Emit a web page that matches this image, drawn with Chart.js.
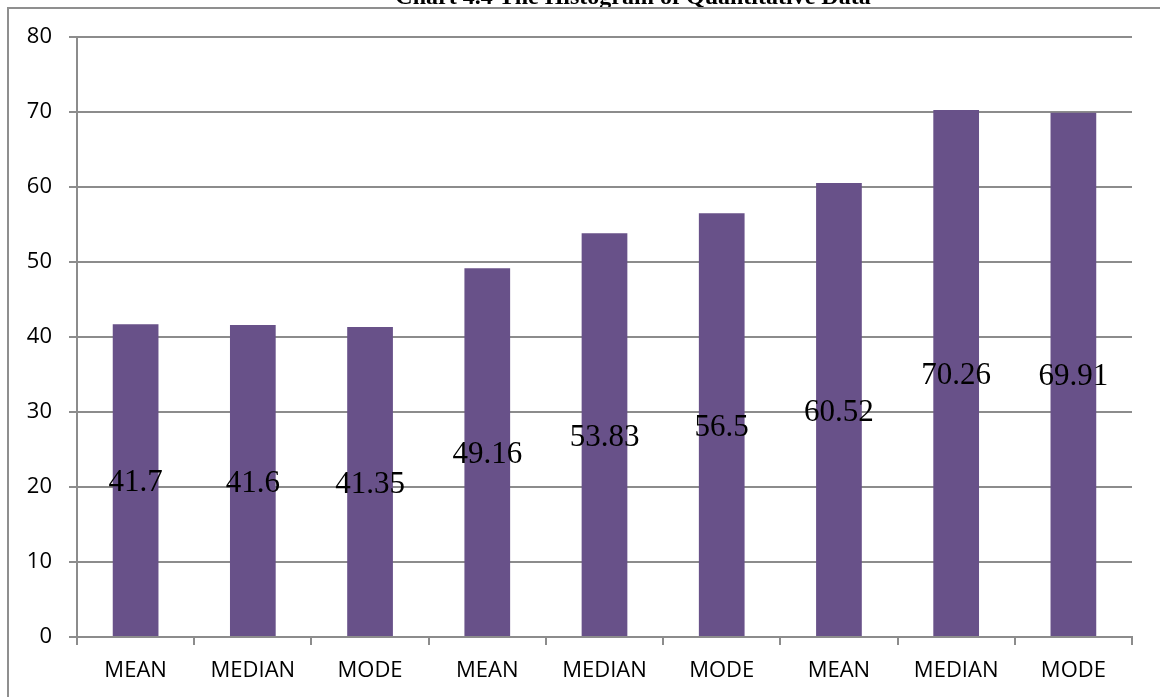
<!DOCTYPE html>
<html>
<head>
<meta charset="utf-8">
<script src="https://cdn.jsdelivr.net/npm/chart.js@4.4.1/dist/chart.umd.min.js"></script>
<style>
  html, body { margin: 0; padding: 0; background: #ffffff; }
  #wrap { position: relative; width: 1160px; height: 697px; overflow: hidden; }
  #frame {
    position: absolute; left: 7px; top: 7px; width: 1200px; height: 800px;
    border-top: 2px solid #8f8f8f; border-left: 2px solid #8f8f8f;
    box-sizing: border-box; pointer-events: none;
  }
  canvas { position: absolute; left: 0; top: 0; }
</style>
</head>
<body>
<div id="wrap">
  <canvas id="chart" width="1160" height="697"></canvas>
  <div id="frame"></div>
</div>
<script>
// Summary statistics for three groups of quantitative data
const categories = ['MEAN', 'MEDIAN', 'MODE', 'MEAN', 'MEDIAN', 'MODE', 'MEAN', 'MEDIAN', 'MODE'];
const values = [41.7, 41.6, 41.35, 49.16, 53.83, 56.5, 60.52, 70.26, 69.91];
const valueLabels = ['41.7', '41.6', '41.35', '49.16', '53.83', '56.5', '60.52', '70.26', '69.91'];
const yTicks = [0, 10, 20, 30, 40, 50, 60, 70, 80];
const titleText = 'Chart 4.4 The Histogram of Quantitative Data';

const axisGray = '#8c8c8c';
const barColor = '#685189';

// Writes each value in the middle of its bar
const centerLabels = {
  id: 'centerLabels',
  afterDatasetsDraw(chart) {
    const ctx = chart.ctx;
    const meta = chart.getDatasetMeta(0);
    ctx.save();
    ctx.font = '31px "Liberation Serif", "Times New Roman", serif';
    ctx.fillStyle = '#000000';
    ctx.textAlign = 'center';
    ctx.textBaseline = 'middle';
    meta.data.forEach((bar, i) => {
      const mid = (bar.y + bar.base) / 2;
      ctx.fillText(valueLabels[i], bar.x, mid + 3);
    });
    ctx.restore();
  }
};

// Heading text along the top edge
const heading = {
  id: 'heading',
  beforeDraw(chart) {
    const ctx = chart.ctx;
    ctx.save();
    ctx.font = 'bold 24px "Liberation Serif", "Times New Roman", serif';
    ctx.fillStyle = '#000000';
    ctx.textAlign = 'center';
    ctx.textBaseline = 'alphabetic';
    ctx.fillText(titleText, 633, 4);
    ctx.restore();
  }
};

new Chart(document.getElementById('chart'), {
  type: 'bar',
  data: {
    labels: categories,
    datasets: [{
      data: values,
      backgroundColor: barColor,
      borderWidth: 0,
      barPercentage: 0.39,
      categoryPercentage: 1.0
    }]
  },
  options: {
    responsive: false,
    animation: false,
    devicePixelRatio: 1,
    layout: { padding: { top: 37, right: 28, bottom: 0, left: 0 } },
    plugins: {
      legend: { display: false },
      tooltip: { enabled: false },
      title: { display: false }
    },
    scales: {
      x: {
        offset: true,
        grid: {
          display: true,
          drawOnChartArea: false,
          drawTicks: true,
          tickLength: 8,
          color: axisGray,
          lineWidth: 2,
          offset: true
        },
        border: { display: true, color: axisGray, width: 2 },
        ticks: {
          color: '#000000',
          padding: 13,
          maxRotation: 0,
          autoSkip: false,
          font: { family: '"Open Sans", sans-serif', size: 22 }
        },
        afterFit(scale) { scale.height = 60; }
      },
      y: {
        min: 0,
        max: 80,
        afterBuildTicks(scale) { scale.ticks = yTicks.map(v => ({ value: v })); },
        grid: {
          color: axisGray,
          lineWidth: 2,
          tickLength: 8,
          drawTicks: true
        },
        border: { display: true, color: axisGray, width: 2 },
        ticks: {
          color: '#000000',
          padding: 17,
          font: { family: '"Open Sans", sans-serif', size: 22 }
        },
        afterFit(scale) { scale.width = 77; }
      }
    }
  },
  plugins: [centerLabels, heading]
});
</script>
</body>
</html>
